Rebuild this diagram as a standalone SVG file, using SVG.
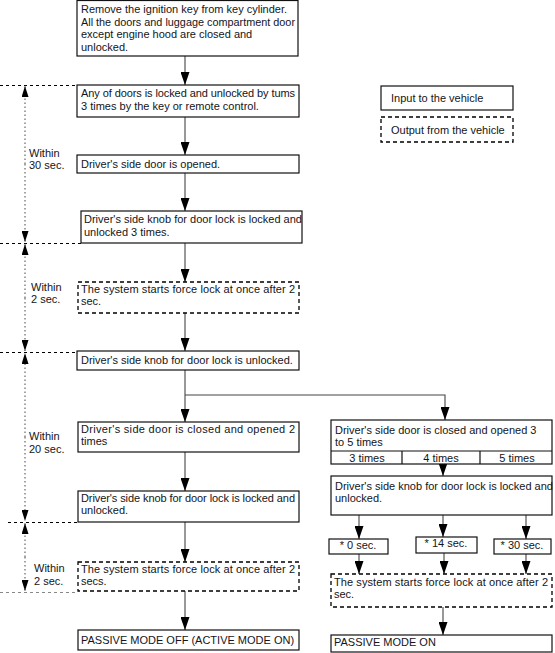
<svg xmlns="http://www.w3.org/2000/svg" width="555" height="653" viewBox="0 0 555 653">
<defs>
<style>
text{font-family:"Liberation Sans",Arial,sans-serif;font-size:11px;fill:#141420}
.b{fill:#fff;stroke:#111;stroke-width:1.2}
.d{fill:#fff;stroke:#000;stroke-width:1.3;stroke-dasharray:4,3}
.c{stroke:#444;stroke-width:1.1;fill:none}
.t{stroke:#000;stroke-width:1;stroke-dasharray:3,3;fill:none;shape-rendering:crispEdges}
.v{stroke:#666;stroke-width:1.2;stroke-dasharray:1.5,2.5;fill:none}
.m{text-anchor:middle}
</style>
<marker id="ah" markerWidth="13" markerHeight="9" refX="13" refY="4.5" orient="auto" markerUnits="userSpaceOnUse" viewBox="0 0 13 9">
<path d="M0,0 L13,4.5 L0,9 Z" fill="#000"/>
</marker>
<marker id="th" markerWidth="11" markerHeight="7" refX="11" refY="3.5" orient="auto" markerUnits="userSpaceOnUse" viewBox="0 0 11 7">
<path d="M0,0 L11,3.5 L0,7 Z" fill="#000"/>
</marker>
</defs>

<g id="connectors">
<path class="c" d="M185,56V85" marker-end="url(#ah)"/>
<path class="c" d="M185,117V155" marker-end="url(#ah)"/>
<path class="c" d="M185,173V211" marker-end="url(#ah)"/>
<path class="c" d="M185,243V282" marker-end="url(#ah)"/>
<path class="c" d="M185,313V351" marker-end="url(#ah)"/>
<path class="c" d="M185,370V422" marker-end="url(#ah)"/>
<path class="c" d="M185,395H445V420" marker-end="url(#ah)"/>
<path class="c" d="M185,452V491" marker-end="url(#ah)"/>
<path class="c" d="M185,522V562" marker-end="url(#ah)"/>
<path class="c" d="M185,591V630" marker-end="url(#ah)"/>
<path class="c" d="M443,464V476" marker-end="url(#ah)"/>
<path class="c" d="M359,515V539" marker-end="url(#ah)"/>
<path class="c" d="M443,515V537" marker-end="url(#ah)"/>
<path class="c" d="M526,515V539" marker-end="url(#ah)"/>
<path class="c" d="M359,554V574" marker-end="url(#ah)"/>
<path class="c" d="M444,553V574" marker-end="url(#ah)"/>
<path class="c" d="M526,554V574" marker-end="url(#ah)"/>
<path class="c" d="M443,607V635" marker-end="url(#ah)"/>
</g>

<g id="timing">
<path class="t" d="M0,85.5H77"/>
<path class="t" d="M0,243.5H81"/>
<path class="t" d="M0,352.5H77"/>
<path class="t" d="M8,522.5H78"/>
<path class="t" d="M0,592.5H78" style="stroke:#888"/>
<path class="v" d="M25,164V86" marker-end="url(#th)"/>
<path class="v" d="M25,164V242" marker-end="url(#th)"/>
<path class="v" d="M25,298V244" marker-end="url(#th)"/>
<path class="v" d="M25,298V351" marker-end="url(#th)"/>
<path class="v" d="M25,437V353" marker-end="url(#th)"/>
<path class="v" d="M25,437V521" marker-end="url(#th)"/>
<path class="v" d="M25,557V523" marker-end="url(#th)"/>
<path class="v" d="M25,557V591" marker-end="url(#th)"/>
<text x="29" y="157">Within</text><text x="29" y="169">30 sec.</text>
<text x="31" y="291">Within</text><text x="31" y="303">2 sec.</text>
<text x="29" y="440">Within</text><text x="29" y="453">20 sec.</text>
<text x="34" y="572">Within</text><text x="34" y="585">2 sec.</text>
</g>

<g id="n1"><rect class="b" x="77" y="0.5" width="221" height="55.5"/>
<text x="81" y="13">Remove the ignition key from key cylinder.</text>
<text x="81" y="25.5" textLength="214" lengthAdjust="spacingAndGlyphs">All the doors and luggage compartment door</text>
<text x="81" y="38">except engine hood are closed and</text>
<text x="81" y="50.5">unlocked.</text></g>

<g id="n2"><rect class="b" x="77" y="85" width="222" height="32"/>
<text x="81" y="97" textLength="214" lengthAdjust="spacing">Any of doors is locked and unlocked by tums</text>
<text x="81" y="110">3 times by the key or remote control.</text></g>

<g id="n3"><rect class="b" x="77" y="155" width="222" height="18"/>
<text x="81" y="168">Driver's side door is opened.</text></g>

<g id="n4"><rect class="b" x="81" y="211" width="221" height="32"/>
<text x="84" y="223">Driver's side knob for door lock is locked and</text>
<text x="84" y="236">unlocked 3 times.</text></g>

<g id="n5"><rect class="d" x="78" y="282" width="221" height="31"/>
<text x="81" y="293" textLength="214" lengthAdjust="spacing">The system starts force lock at once after 2</text>
<text x="81" y="305">sec.</text></g>

<g id="n6"><rect class="b" x="77" y="351" width="222" height="19"/>
<text x="81" y="364">Driver's side knob for door lock is unlocked.</text></g>

<g id="n7"><rect class="b" x="78" y="422" width="221" height="30"/>
<text x="81" y="433" textLength="214" lengthAdjust="spacing">Driver's side door is closed and opened 2</text>
<text x="81" y="445">times</text></g>

<g id="n8"><rect class="b" x="78" y="491" width="221" height="31"/>
<text x="81" y="502" textLength="214" lengthAdjust="spacing">Driver's side knob for door lock is locked and</text>
<text x="81" y="514">unlocked.</text></g>

<g id="n9"><rect class="d" x="78" y="562" width="221" height="29"/>
<text x="81" y="573" textLength="214" lengthAdjust="spacing">The system starts force lock at once after 2</text>
<text x="81" y="585">secs.</text></g>

<g id="n10"><rect class="b" x="78" y="630" width="221" height="20"/>
<text x="81" y="644">PASSIVE MODE OFF (ACTIVE MODE ON)</text></g>

<g id="hint"><text x="82" y="661">HINT</text></g>

<g id="r1"><rect class="b" x="331" y="420" width="221" height="44"/>
<path class="b" d="M331,451H552M402,451V464M480,451V464" style="fill:none"/>
<text x="335" y="434">Driver's side door is closed and opened 3</text>
<text x="335" y="446">to 5 times</text>
<text class="m" x="367" y="462">3 times</text>
<text class="m" x="441" y="462">4 times</text>
<text class="m" x="517" y="462">5 times</text></g>

<g id="r2"><rect class="b" x="331" y="476" width="221" height="39"/>
<text x="335" y="490">Driver's side knob for door lock is locked and</text>
<text x="335" y="502">unlocked.</text></g>

<g id="s1"><rect class="b" x="329" y="539" width="59" height="15"/>
<text class="m" x="358" y="549">* 0 sec.</text></g>
<g id="s2"><rect class="b" x="416" y="537" width="61" height="16"/>
<text class="m" x="446" y="547">* 14 sec.</text></g>
<g id="s3"><rect class="b" x="494" y="539" width="57" height="15"/>
<text class="m" x="522" y="549">* 30 sec.</text></g>

<g id="r3"><rect class="d" x="331" y="574" width="221" height="33"/>
<text x="334" y="586" textLength="214" lengthAdjust="spacing">The system starts force lock at once after 2</text>
<text x="334" y="598">sec.</text></g>

<g id="r4"><rect class="b" x="331" y="635" width="221" height="17"/>
<text x="334" y="646">PASSIVE MODE ON</text></g>

<g id="legend-in"><rect class="b" x="381" y="86" width="132" height="24"/>
<text x="391" y="102">Input to the vehicle</text></g>
<g id="legend-out"><rect class="d" x="381" y="117" width="132" height="25"/>
<text x="391" y="134">Output from the vehicle</text></g>
</svg>
